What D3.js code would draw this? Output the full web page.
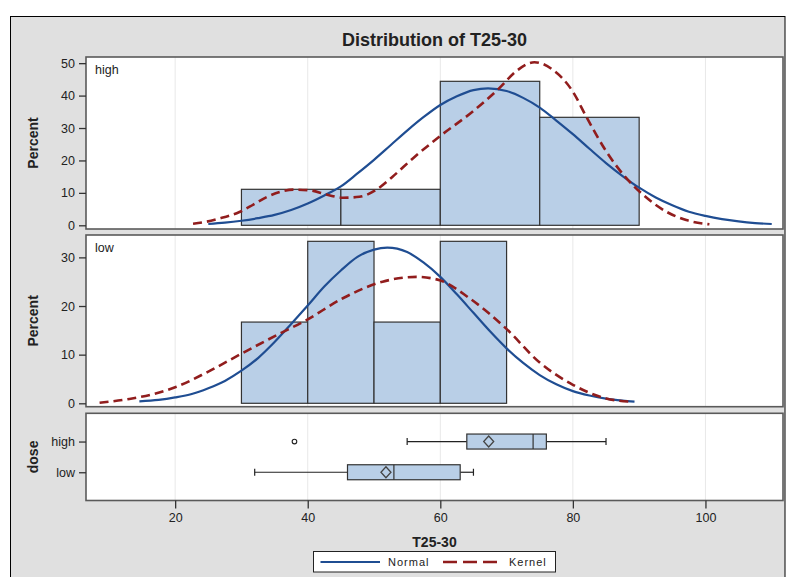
<!DOCTYPE html>
<html>
<head>
<meta charset="utf-8">
<script src="https://d3js.org/d3.v7.min.js"></script>
<style>
  body { margin: 0; background: #fff; }
  text { font-family: "Liberation Sans", Arial, sans-serif; fill: #222; }
</style>
</head>
<body>
<script>
// histogram bins (edges) and percents per dose group
let highEdges = [30, 45, 60, 75, 90];
let highPct = [11.1, 11.1, 44.4, 33.3];
let lowEdges = [30, 40, 50, 60, 70];
let lowPct = [16.7, 33.3, 16.7, 33.3];

// fitted normal curves
let highNormalX = [25, 27.5, 30, 32.5, 35, 37.5, 40, 42.5, 45, 47.5, 50, 52.5, 55, 57.5, 60, 62.5, 65, 67.2, 70, 72.5, 75, 77.5, 80, 82.5, 85, 87.5, 90, 92.5, 95, 97.5, 100, 102.5, 105, 107.5, 110];
let highNormalY = [0.4, 0.8, 1.4, 2.2, 3.2, 4.7, 6.7, 9.2, 12.0, 16.0, 20.2, 24.7, 29.2, 33.4, 37.1, 39.8, 41.7, 42.2, 41.4, 39.3, 36.3, 32.3, 28.1, 23.6, 19.2, 15.2, 11.6, 8.6, 6.2, 4.2, 2.9, 1.9, 1.2, 0.7, 0.4];
let lowNormalX = [14.6, 17.5, 20, 22.5, 25, 27.5, 30, 32.5, 35, 37.5, 40, 42.5, 45, 47.5, 50, 52, 55, 57.5, 60, 62.5, 65, 67.5, 70, 72.5, 75, 77.5, 80, 82.5, 85, 87.5, 89.3];
let lowNormalY = [0.4, 0.7, 1.2, 1.9, 3.1, 4.6, 6.7, 9.3, 12.6, 16.3, 20.1, 24.0, 27.3, 30.1, 31.6, 32.0, 31.1, 28.9, 26.0, 22.4, 18.6, 14.8, 11.3, 8.3, 5.8, 3.9, 2.5, 1.6, 0.95, 0.55, 0.35];

// kernel density curves
let highKernelX = [22.7, 24.7, 26.7, 29.7, 31.8, 33.8, 35.8, 37.8, 40.3, 42.8, 45.3, 47.8, 50.3, 52.8, 55.9, 59.9, 64.9, 68.9, 71.5, 74.2, 77.0, 80.0, 82.0, 85.0, 88.0, 90.6, 94.1, 97.1, 100.6];
let highKernelY = [0.5, 1.1, 2.1, 4.1, 6.4, 8.7, 10.3, 11.0, 10.8, 9.5, 8.5, 8.8, 10.9, 15.0, 20.7, 27.4, 35.1, 42.3, 47.6, 50.3, 47.9, 41.2, 33.6, 22.9, 14.7, 9.4, 4.2, 1.6, 0.3];
let lowKernelX = [8.6, 13.1, 16.7, 20.2, 24.7, 30.0, 35.3, 39.8, 45.3, 51.3, 56.4, 59.9, 64.4, 69.9, 74.9, 80.0, 85.0, 89.1];
let lowKernelY = [0.1, 0.9, 1.9, 3.4, 6.3, 10.2, 14.0, 17.1, 21.6, 25.0, 26.0, 25.3, 21.6, 15.4, 8.5, 3.8, 1.0, 0.3];

// box plot summary per dose
let doseCats = ['high', 'low'];
let boxMin = [55, 32];
let boxQ1 = [64, 46];
let boxMed = [74, 53];
let boxQ3 = [76, 63];
let boxMax = [85, 65];
let boxMean = [67.3, 51.8];
let outliers = [{ dose: 'high', value: 38 }];

let xTicks = [20, 40, 60, 80, 100];
let highTicks = [0, 10, 20, 30, 40, 50];
let lowTicks = [0, 10, 20, 30];

let width = 786, height = 577;
let left = 86, right = 783;
let fillBar = '#b9cfe7', normalColor = '#1f4d92', kernelColor = '#911d1d', frameStroke = '#5a5a5a';

let svg = d3.select('body').append('svg')
    .attr('width', width)
    .attr('height', height);

// grey background frame
svg.append('rect')
    .attr('x', 10.5).attr('y', 16.5)
    .attr('width', 774.5).attr('height', 580)
    .attr('fill', '#e0e0e0')
    .attr('stroke', '#000');

svg.append('text')
    .attr('x', (left + right) / 2).attr('y', 46)
    .attr('text-anchor', 'middle')
    .style('font-size', '18px').style('font-weight', 'bold')
    .text('Distribution of T25-30');

let x = d3.scaleLinear().domain([6.55, 111.7]).range([left, right]);

function panel(top, bottom) {
  let g = svg.append('g');
  g.append('rect')
      .attr('x', left).attr('y', top)
      .attr('width', right - left).attr('height', bottom - top)
      .attr('fill', '#fff');
  g.selectAll('.grid').data(xTicks).enter().append('line')
      .attr('x1', function(d){ return x(d); })
      .attr('x2', function(d){ return x(d); })
      .attr('y1', top).attr('y2', bottom)
      .attr('stroke', '#e8e8e8');
  return g;
}

function border(top, bottom) {
  svg.append('rect')
      .attr('x', left).attr('y', top)
      .attr('width', right - left).attr('height', bottom - top)
      .attr('fill', 'none')
      .attr('stroke', frameStroke).attr('stroke-width', 1.6);
}

function styleAxis(ax) {
  ax.select('.domain').remove();
  ax.selectAll('.tick line').attr('stroke', '#333').attr('stroke-width', 1.3);
  ax.selectAll('.tick text').style('font-size', '12.5px').attr('fill', '#222');
}

function histPanel(top, bottom, yDomain, ticks, edges, pct, nx, ny, kx, ky, label) {
  let g = panel(top, bottom);
  let y = d3.scaleLinear().domain(yDomain).range([bottom, top]);

  g.selectAll('.bar').data(pct).enter().append('rect')
      .attr('x', function(d, i){ return x(edges[i]); })
      .attr('y', function(d){ return y(d); })
      .attr('width', function(d, i){ return x(edges[i + 1]) - x(edges[i]); })
      .attr('height', function(d){ return y(0) - y(d); })
      .attr('fill', fillBar)
      .attr('stroke', '#333').attr('stroke-width', 1.2);

  let line = d3.line()
      .x(function(d){ return x(d[0]); })
      .y(function(d){ return y(d[1]); })
      .curve(d3.curveMonotoneX);

  g.append('path')
      .attr('d', line(nx.map(function(v, i){ return [v, ny[i]]; })))
      .attr('fill', 'none').attr('stroke', normalColor).attr('stroke-width', 2.2);

  g.append('path')
      .attr('d', line(kx.map(function(v, i){ return [v, ky[i]]; })))
      .attr('fill', 'none').attr('stroke', kernelColor).attr('stroke-width', 2.6)
      .attr('stroke-dasharray', '9,5');

  g.append('text')
      .attr('x', 95).attr('y', top + 17)
      .style('font-size', '12.5px')
      .text(label);

  border(top, bottom);

  let ax = svg.append('g')
      .attr('transform', 'translate(' + left + ',0)')
      .call(d3.axisLeft(y).tickValues(ticks).tickSize(7).tickPadding(4));
  styleAxis(ax);

  svg.append('text')
      .attr('transform', 'translate(38,' + (top + bottom) / 2 + ') rotate(-90)')
      .attr('text-anchor', 'middle')
      .style('font-size', '14px').style('font-weight', 'bold')
      .text('Percent');
}

histPanel(57, 229, [-1.14, 51.9], highTicks, highEdges, highPct,
    highNormalX, highNormalY, highKernelX, highKernelY, 'high');
histPanel(235, 406.7, [-0.7, 34.6], lowTicks, lowEdges, lowPct,
    lowNormalX, lowNormalY, lowKernelX, lowKernelY, 'low');

// box plot panel
let boxTop = 413.3, boxBottom = 500.5;
let gb = panel(boxTop, boxBottom);
let yb = d3.scalePoint().domain(doseCats).range([boxTop, boxBottom]).padding(0.92);
let half = 7.5;

doseCats.forEach(function(c, i) {
  let cy = yb(c);
  // whiskers
  gb.append('line')
      .attr('x1', x(boxMin[i])).attr('x2', x(boxQ1[i]))
      .attr('y1', cy).attr('y2', cy)
      .attr('stroke', '#222').attr('stroke-width', 1.2);
  gb.append('line')
      .attr('x1', x(boxQ3[i])).attr('x2', x(boxMax[i]))
      .attr('y1', cy).attr('y2', cy)
      .attr('stroke', '#222').attr('stroke-width', 1.2);
  [boxMin[i], boxMax[i]].forEach(function(v) {
    gb.append('line')
        .attr('x1', x(v)).attr('x2', x(v))
        .attr('y1', cy - 3.5).attr('y2', cy + 3.5)
        .attr('stroke', '#222').attr('stroke-width', 1.2);
  });
  gb.append('rect')
      .attr('x', x(boxQ1[i])).attr('y', cy - half)
      .attr('width', x(boxQ3[i]) - x(boxQ1[i])).attr('height', half * 2)
      .attr('fill', fillBar)
      .attr('stroke', '#333').attr('stroke-width', 1.2);
  gb.append('line')
      .attr('x1', x(boxMed[i])).attr('x2', x(boxMed[i]))
      .attr('y1', cy - half).attr('y2', cy + half)
      .attr('stroke', '#333').attr('stroke-width', 1.2);
  let mx = x(boxMean[i]);
  gb.append('path')
      .attr('d', 'M' + mx + ',' + (cy - 5.5) + 'L' + (mx + 5) + ',' + cy +
                 'L' + mx + ',' + (cy + 5.5) + 'L' + (mx - 5) + ',' + cy + 'Z')
      .attr('fill', fillBar)
      .attr('stroke', '#444').attr('stroke-width', 1.3);
});

gb.selectAll('.outlier').data(outliers).enter().append('circle')
    .attr('cx', function(d){ return x(d.value); })
    .attr('cy', function(d){ return yb(d.dose); })
    .attr('r', 2.3)
    .attr('fill', 'none').attr('stroke', '#222').attr('stroke-width', 1.1);

border(boxTop, boxBottom);

let axb = svg.append('g')
    .attr('transform', 'translate(' + left + ',0)')
    .call(d3.axisLeft(yb).tickSize(7).tickPadding(4));
styleAxis(axb);

svg.append('text')
    .attr('transform', 'translate(38,' + (boxTop + boxBottom) / 2 + ') rotate(-90)')
    .attr('text-anchor', 'middle')
    .style('font-size', '14px').style('font-weight', 'bold')
    .text('dose');

// x axis
let axx = svg.append('g')
    .attr('transform', 'translate(0,' + boxBottom + ')')
    .call(d3.axisBottom(x).tickValues(xTicks).tickSize(8).tickPadding(5));
styleAxis(axx);

svg.append('text')
    .attr('x', (left + right) / 2).attr('y', 547)
    .attr('text-anchor', 'middle')
    .style('font-size', '14px').style('font-weight', 'bold')
    .text('T25-30');

// legend
let lg = svg.append('g');
lg.append('rect')
    .attr('x', 313.5).attr('y', 551.5)
    .attr('width', 242).attr('height', 20.5)
    .attr('fill', '#fff').attr('stroke', '#222');
lg.append('line')
    .attr('x1', 320.5).attr('x2', 380).attr('y1', 562).attr('y2', 562)
    .attr('stroke', normalColor).attr('stroke-width', 2.2);
lg.append('text')
    .attr('x', 388).attr('y', 566)
    .style('font-size', '11px').style('letter-spacing', '1px')
    .text('Normal');
lg.append('line')
    .attr('x1', 443).attr('x2', 497).attr('y1', 562).attr('y2', 562)
    .attr('stroke', kernelColor).attr('stroke-width', 2.6)
    .attr('stroke-dasharray', '14,6');
lg.append('text')
    .attr('x', 509).attr('y', 566)
    .style('font-size', '11px').style('letter-spacing', '1px')
    .text('Kernel');
</script>
</body>
</html>
